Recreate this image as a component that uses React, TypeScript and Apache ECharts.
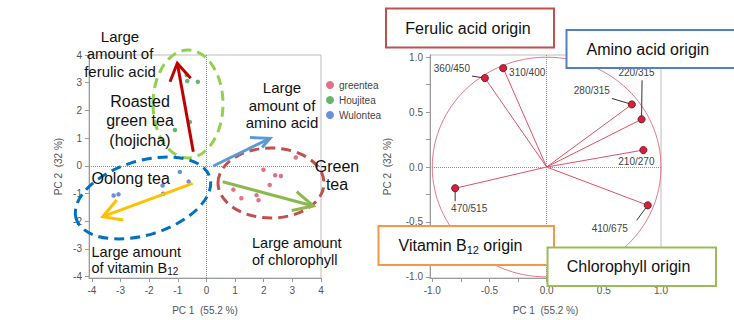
import React, { useEffect, useRef } from "react";
import * as echarts from "echarts";

// ---------- data ----------
const SERIES_NAMES = ["greentea", "Houjitea", "Wulontea"];
const GREENTEA_PC1 = [3.12, 1.99, 2.4, 2.6, 2.21, 0.94, 1.22, 1.75, 1.82];
const GREENTEA_PC2 = [0.3, -0.14, -0.34, -0.37, -0.69, -0.86, -1.17, -1.06, -1.24];
const HOUJITEA_PC1 = [-0.67, -0.3, -1.1, -0.69, -0.58];
const HOUJITEA_PC2 = [3.06, 3.03, 1.29, 3.28, 1.58];
const WULONTEA_PC1 = [-0.93, -1.53, -1.51, -0.62, -3.07, -3.24, -3.5];
const WULONTEA_PC2 = [-0.22, -0.71, -1.01, -0.57, -1.03, -1.07, -1.79];

const LOADING_NAMES = ["360/450", "310/400", "280/315", "220/315", "210/270", "470/515", "410/675"];
const LOADING_PC1 = [-0.54, -0.38, 0.745, 0.83, 0.846, -0.8, 0.884];
const LOADING_PC2 = [0.81, 0.9, 0.57, 0.435, 0.155, -0.193, -0.348];

const SCORE_TICKS = [-4, -3, -2, -1, 0, 1, 2, 3, 4];
const LOADING_LABEL_TICKS = [-1, -0.5, 0, 0.5, 1];
const LOADING_TICKS = [-1, -0.75, -0.5, -0.25, 0, 0.25, 0.5, 0.75, 1];

const X_NAME = "PC 1  (55.2 %)";
const Y_NAME = "PC 2  (32 %)";

// ---------- styles ----------
const SERIES_COLORS = ["#D9506C", "#3FA34D", "#4472D6"];
const FONT = "Liberation Sans, Arial, sans-serif";
// label placement (pixel offsets from each loading point): text center, leader start
const LABEL_OFFSETS: Record<string, { dx: number; dy: number; lx?: number; ly?: number }> = {
  "360/450": { dx: -33, dy: -10, lx: -13, ly: -2 },
  "310/400": { dx: 24, dy: 4 },
  "280/315": { dx: -40, dy: -14, lx: -20, ly: -6 },
  "220/315": { dx: -5, dy: -47, lx: 0.5, ly: -39 },
  "210/270": { dx: -7, dy: 11 },
  "470/515": { dx: 14, dy: 20, lx: 0, ly: 13 },
  "410/675": { dx: -38, dy: 23, lx: -11, ly: 15 },
};

function zip(a: number[], b: number[]) {
  return a.map((v, i) => [v, b[i]]);
}

function axisCommon(labelValues: number[], tickValues: number[], fmt: (v: number) => string) {
  return {
    axisLine: { show: true, onZero: false, lineStyle: { color: "#9a9a9a", width: 1 } },
    axisTick: { show: true, length: 4, customValues: tickValues, lineStyle: { color: "#9a9a9a" } },
    axisLabel: {
      show: true,
      customValues: labelValues,
      formatter: (v: number) => fmt(v),
      color: "#555",
      fontSize: 10,
      fontFamily: FONT,
      margin: 7,
    },
    splitLine: { show: false },
    nameTextStyle: { color: "#555", fontSize: 10, fontFamily: FONT },
  };
}

export default function App() {
  const ref = useRef<HTMLDivElement>(null);
  useEffect(() => {
    document.body.style.margin = "0";
    if (!ref.current) return;
    const chart = echarts.init(ref.current, null, { renderer: "svg" });

    const zeroLine = {
      silent: true,
      symbol: ["none", "none"],
      label: { show: false },
      lineStyle: { type: "dotted", color: "#d7708a", width: 1 },
      data: [{ xAxis: 0 }, { yAxis: 0 }],
    };

    const scoreData = [zip(GREENTEA_PC1, GREENTEA_PC2), zip(HOUJITEA_PC1, HOUJITEA_PC2), zip(WULONTEA_PC1, WULONTEA_PC2)];

    const arrow = (pts: number[][], head: number[][], color: string) => [
      { type: "polyline", z: 20, shape: { points: pts }, style: { stroke: color, lineWidth: 3, fill: "none" } },
      { type: "polyline", z: 20, shape: { points: head }, style: { stroke: color, lineWidth: 3, fill: "none" } },
    ];
    const annText = (x: number, y: number, text: string, size: number, lh: number, align = "center", va = "top", rich?: any) => ({
      type: "text",
      z: 25,
      x,
      y,
      style: {
        text,
        fontSize: size,
        fontFamily: FONT,
        fill: "#111",
        align,
        verticalAlign: va,
        lineHeight: lh,
        rich,
      },
    });
    const dashedEllipse = (cx: number, cy: number, rx: number, ry: number, rot: number, color: string) => ({
      type: "ellipse",
      z: 15,
      x: cx,
      y: cy,
      rotation: rot,
      shape: { cx: 0, cy: 0, rx, ry },
      style: { fill: "none", stroke: color, lineWidth: 3, lineDash: [10, 6] },
    });
    const box = (x: number, y: number, w: number, h: number, color: string, z: number) => ({
      type: "rect",
      z,
      shape: { x, y, width: w, height: h },
      style: { fill: "#fff", stroke: color, lineWidth: 2 },
    });

    const graphic: any[] = [
      dashedEllipse(188, 104, 35, 54, 0, "#92D050"),
      dashedEllipse(143, 198, 70, 37, 0.3, "#0070C0"),
      dashedEllipse(271, 183, 53, 35, 0, "#C0504D"),
      ...arrow([[193.3, 151.7], [177.3, 63.3]], [[170, 81.7], [177.3, 63.3], [190.7, 78.3]], "#C00000"),
      ...arrow([[213.3, 166], [270, 138.3]], [[250, 137.5], [270, 138.3], [262, 147.5]], "#5B9BD5"),
      ...arrow([[222.7, 181.7], [313.3, 206]], [[296.7, 191.7], [313.3, 206], [291.7, 210.5]], "#8DB84E"),
      ...arrow([[192.7, 183.3], [102.7, 216.7]], [[116.7, 200], [102.7, 216.7], [123.3, 220]], "#FFC000"),
      annText(120, 28, "Large\namount of\nferulic acid", 15, 17.2),
      annText(140, 92, "Roasted\ngreen tea\n(hojicha)", 16, 19.2),
      annText(282, 79.3, "Large\namount of\namino acid", 15, 17.4),
      annText(91.5, 178, "Oolong tea", 16, 19, "left", "middle"),
      annText(337, 157.5, "Green\ntea", 16, 18.3),
      annText(91.5, 243.4, "Large amount\nof vitamin B{sub|12}", 14.5, 16.6, "left", "top", {
        sub: { fontSize: 10, lineHeight: 10, verticalAlign: "bottom", fontFamily: FONT, fill: "#111" },
      }),
      annText(252, 235, "Large amount\nof chlorophyll", 14.5, 16.7, "left"),
      // right-hand boxes
      box(386, 8.5, 168, 39, "#C0504D", 30),
      annText(468, 28.5, "Ferulic acid origin", 16, 20, "center", "middle"),
      box(566.5, 30, 170, 38, "#4F81BD", 32),
      annText(586.5, 49.5, "Amino acid origin", 16, 20, "left", "middle"),
      box(378.5, 226, 175.5, 39, "#F79646", 34),
      annText(398.5, 245.5, "Vitamin B{sub|12} origin", 16, 20, "left", "middle", {
        sub: { fontSize: 11, lineHeight: 12, verticalAlign: "bottom", fontFamily: FONT, fill: "#111" },
      }),
      box(547.5, 247.5, 168.5, 38.5, "#9BBB59", 36),
      annText(628.5, 266.5, "Chlorophyll origin", 16, 20, "center", "middle"),
    ];
    // raise text z above its box
    graphic.forEach((g) => {
      if (g.type === "text" && g.x > 370) g.z = 40;
    });

    const option: any = {
      animation: false,
      backgroundColor: "#fff",
      grid: [
        { left: 89, top: 55, width: 232, height: 230, show: true, borderColor: "#bdbdbd", borderWidth: 1, backgroundColor: "transparent" },
        { left: 430, top: 55, width: 231, height: 231, show: true, borderColor: "#bdbdbd", borderWidth: 1, backgroundColor: "transparent" },
      ],
      xAxis: [
        {
          type: "value", gridIndex: 0, min: -4.1, max: 4,
          name: X_NAME, nameLocation: "middle", nameGap: 27,
          ...axisCommon(SCORE_TICKS, SCORE_TICKS, (v) => String(v)),
        },
        {
          type: "value", gridIndex: 1, min: -1.02, max: 1.0,
          name: X_NAME, nameLocation: "middle", nameGap: 27,
          ...axisCommon(LOADING_LABEL_TICKS, LOADING_TICKS, (v) => v.toFixed(1)),
        },
      ],
      yAxis: [
        {
          type: "value", gridIndex: 0, min: -4.05, max: 4,
          name: Y_NAME, nameLocation: "middle", nameGap: 26, nameRotate: 90,
          ...axisCommon(SCORE_TICKS, SCORE_TICKS, (v) => String(v)),
        },
        {
          type: "value", gridIndex: 1, min: -1.01, max: 1.02,
          name: Y_NAME, nameLocation: "middle", nameGap: 38, nameRotate: 90,
          ...axisCommon(LOADING_LABEL_TICKS, LOADING_TICKS, (v) => v.toFixed(1)),
        },
      ],
      legend: {
        data: SERIES_NAMES,
        orient: "vertical",
        left: 321,
        top: 74,
        icon: "circle",
        itemWidth: 8,
        itemHeight: 8,
        itemGap: 3,
        textStyle: { fontSize: 10, color: "#444", fontFamily: FONT, lineHeight: 12 },
      },
      series: [
        ...SERIES_NAMES.map((name, i) => ({
          type: "scatter",
          name,
          xAxisIndex: 0,
          yAxisIndex: 0,
          symbol: "circle",
          symbolSize: 4.5,
          itemStyle: { color: SERIES_COLORS[i] },
          data: scoreData[i],
          z: 3,
          markLine: i === 0 ? zeroLine : undefined,
        })),
        {
          type: "scatter",
          name: "_zero",
          xAxisIndex: 1,
          yAxisIndex: 1,
          data: [],
          markLine: zeroLine,
        },
        {
          type: "custom",
          name: "_circle",
          xAxisIndex: 1,
          yAxisIndex: 1,
          data: [[0, 0]],
          silent: true,
          renderItem: (_p: any, api: any) => {
            const c = api.coord([0, 0]);
            const px = api.coord([1, 0]);
            const py = api.coord([0, 1]);
            return {
              type: "ellipse",
              shape: { cx: c[0], cy: c[1], rx: px[0] - c[0], ry: c[1] - py[1] },
              style: { fill: "none", stroke: "#E27A8A", lineWidth: 1 },
            };
          },
        },
        {
          type: "custom",
          name: "_loadings",
          xAxisIndex: 1,
          yAxisIndex: 1,
          silent: true,
          data: zip(LOADING_PC1, LOADING_PC2),
          renderItem: (p: any, api: any) => {
            const o = api.coord([0, 0]);
            const pt = api.coord([api.value(0), api.value(1)]);
            const name = LOADING_NAMES[p.dataIndex];
            const off = LABEL_OFFSETS[name];
            const children: any[] = [
              {
                type: "line",
                shape: { x1: o[0], y1: o[1], x2: pt[0], y2: pt[1] },
                style: { stroke: "#E0506A", lineWidth: 1 },
              },
            ];
            if (off.lx !== undefined) {
              children.push({
                type: "line",
                shape: { x1: pt[0] + off.lx, y1: pt[1] + (off.ly as number), x2: pt[0], y2: pt[1] },
                style: { stroke: "#333", lineWidth: 1 },
              });
            }
            children.push({
              type: "circle",
              shape: { cx: pt[0], cy: pt[1], r: 3.6 },
              style: { fill: "#D81E3C", stroke: "#5a1414", lineWidth: 0.8 },
            });
            children.push({
              type: "text",
              x: pt[0] + off.dx,
              y: pt[1] + off.dy,
              style: {
                text: name,
                fill: "#444",
                fontSize: 10,
                fontFamily: FONT,
                align: "center",
                verticalAlign: "middle",
              },
            });
            return { type: "group", children };
          },
        },
      ],
      graphic,
    };
    chart.setOption(option);
    return () => chart.dispose();
  }, []);
  return <div ref={ref} style={{ width: 734, height: 320 }} />;
}
